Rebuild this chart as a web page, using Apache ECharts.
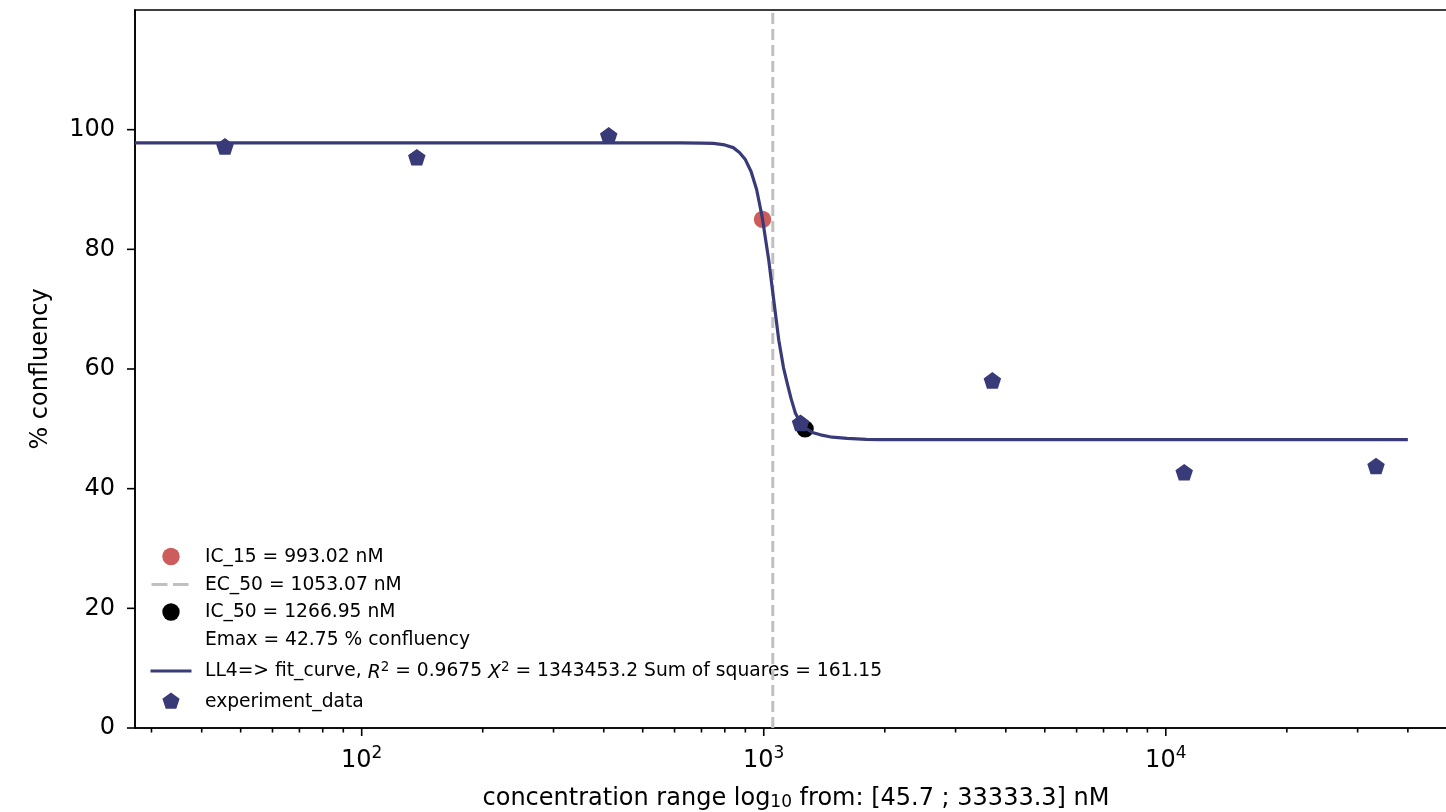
<!DOCTYPE html>
<html>
<head>
<meta charset="utf-8">
<script src="https://cdn.jsdelivr.net/npm/echarts@6/dist/echarts.min.js"></script>
<style>html,body{margin:0;padding:0;background:#fff;overflow:hidden;}#c{width:1446px;height:812px;}</style>
</head>
<body>
<div id="c"></div>
<script>
// ---- data ----
const xMin = 27.3, xMax = 53000;
const yMin = 0, yMax = 120;
const concentrations = [45.7, 137.1, 411.5, 1234.6, 3703.7, 11111.1, 33333.3];
const confluency = [97.2, 95.4, 99.05, 51.0, 58.1, 42.75, 43.8];
const curveX = [27.3, 100, 300, 500, 620, 700, 750, 800, 840, 870, 900, 930, 960, 991, 1029, 1059, 1090, 1120, 1144, 1170, 1199, 1230, 1269, 1320, 1384, 1480, 1612, 1800, 1950, 3000, 5000, 10000, 40000];
const curveY = [97.8, 97.8, 97.8, 97.8, 97.8, 97.75, 97.7, 97.45, 97.0, 96.2, 95.0, 93.0, 90.0, 85.4, 78.2, 71.5, 64.8, 60.2, 57.6, 55.0, 52.6, 51.2, 50.1, 49.4, 49.0, 48.6, 48.4, 48.25, 48.2, 48.2, 48.2, 48.2, 48.2];
const ic15 = [993.02, 85];
const ic50 = [1266.95, 50];
const ec50 = 1053.07;
const yTicks = [0, 20, 40, 60, 80, 100];
const xMajorTicks = [100, 1000, 10000];
const xMinorTicks = [30, 40, 50, 60, 70, 80, 90, 200, 300, 400, 500, 600, 700, 800, 900, 2000, 3000, 4000, 5000, 6000, 7000, 8000, 9000, 20000, 30000, 40000];
const legendLabels = [
  'IC_15 = 993.02 nM',
  'EC_50 = 1053.07 nM',
  'IC_50 = 1266.95 nM',
  'Emax = 42.75 % confluency',
  'LL4=> fit_curve, {i|R}{sup|2} = 0.9675 {i|X}{sup|2} = 1343453.2 Sum of squares = 161.15',
  'experiment_data'
];

const FONT = 'DejaVu Sans';
const NAVY = '#393b79';
const RED = '#cd5c5c';
const GREY = '#c0c0c0';
const PENT = 'path://M50,0 L97.55,34.55 L79.39,90.45 L20.61,90.45 L2.45,34.55 Z';

const chart = echarts.init(document.getElementById('c'), null, {renderer: 'canvas'});

function tickSeries(data, isX, len) {
  return {
    type: 'custom', silent: true, clip: false, z: 10,
    data: data,
    renderItem: function (params, api) {
      const p = api.coord([api.value(0), api.value(1)]);
      const shape = isX ? {x1: p[0], y1: p[1], x2: p[0], y2: p[1] + len}
                        : {x1: p[0], y1: p[1], x2: p[0] - len, y2: p[1]};
      return {type: 'line', shape: shape, style: {stroke: '#000', lineWidth: 1.6}};
    }
  };
}

// legend (drawn as graphics)
const lgX = 171, lgText = 205;
const rowY = [556.5, 584.5, 612, 640, 671, 701.5];
const legendGraphics = [
  {type: 'circle', shape: {cx: lgX, cy: rowY[0], r: 8.7}, style: {fill: RED}},
  {type: 'line', shape: {x1: 151.5, y1: rowY[1], x2: 167.5, y2: rowY[1]}, style: {stroke: GREY, lineWidth: 3}},
  {type: 'line', shape: {x1: 173, y1: rowY[1], x2: 188.5, y2: rowY[1]}, style: {stroke: GREY, lineWidth: 3}},
  {type: 'circle', shape: {cx: lgX, cy: rowY[2], r: 8.7}, style: {fill: '#000'}},
  {type: 'line', shape: {x1: 150.5, y1: rowY[4], x2: 191.5, y2: rowY[4]}, style: {stroke: NAVY, lineWidth: 3.2}},
  {type: 'polygon', shape: {points: [[171, rowY[5]-9], [179.6, rowY[5]-2.8], [176.3, rowY[5]+7.3], [165.7, rowY[5]+7.3], [162.4, rowY[5]-2.8]]}, style: {fill: NAVY}}
];
legendLabels.forEach(function (t, i) {
  legendGraphics.push({
    type: 'text',
    style: {
      text: t, x: lgText, y: rowY[i] + 0.5, verticalAlign: 'middle', align: 'left',
      fill: '#000', fontSize: 18.7, fontFamily: FONT,
      rich: {
        i: {fontStyle: 'italic', fontSize: 18.7, fontFamily: FONT, verticalAlign: 'bottom', lineHeight: 22},
        sup: {fontSize: 13.5, fontFamily: FONT, verticalAlign: 'top', lineHeight: 9}
      }
    }
  });
});

const option = {
  animation: false,
  backgroundColor: '#fff',
  grid: {left: 135, top: 10, width: 1322, bottom: 84, show: true, borderColor: '#000', borderWidth: 1.6, containLabel: false, outerBoundsMode: 'none'},
  xAxis: {
    type: 'log', logBase: 10, min: xMin, max: xMax,
    axisLine: {show: true, lineStyle: {color: '#000', width: 1.6}},
    axisTick: {show: false},
    minorTick: {show: false},
    splitLine: {show: false},
    axisLabel: {
      showMinLabel: false, showMaxLabel: false, margin: 17,
      color: '#000', fontFamily: FONT, fontSize: 24,
      formatter: function (v) {
        const e = Math.round(Math.log10(v));
        if (Math.abs(v - Math.pow(10, e)) / v > 1e-6) return '';
        return '{b|10}{s|' + e + '}';
      },
      rich: {
        b: {fontSize: 24, fontFamily: FONT, color: '#000', verticalAlign: 'bottom', lineHeight: 28},
        s: {fontSize: 17, fontFamily: FONT, color: '#000', verticalAlign: 'top', lineHeight: 15}
      }
    },
    name: 'concentration range log{sub|10} from: [45.7 ; 33333.3] nM',
    nameLocation: 'middle', nameGap: 59,
    nameTextStyle: {
      color: '#000', fontFamily: FONT, fontSize: 24,
      rich: {
        sub: {fontSize: 17, fontFamily: FONT, color: '#000', verticalAlign: 'bottom', lineHeight: 17, padding: [10, 0, 0, 0]}
      }
    }
  },
  yAxis: {
    type: 'value', min: yMin, max: yMax, interval: 20,
    axisLine: {show: true, lineStyle: {color: '#000', width: 1.6}},
    axisTick: {show: false},
    splitLine: {show: false},
    axisLabel: {showMaxLabel: false, margin: 20, padding: [8, 0, 0, 0], color: '#000', fontFamily: FONT, fontSize: 24},
    name: '% confluency', nameLocation: 'middle', nameGap: 82,
    nameTextStyle: {color: '#000', fontFamily: FONT, fontSize: 24}
  },
  graphic: legendGraphics,
  series: [
    {
      name: 'IC_15', type: 'scatter', z: 2, symbol: 'circle', symbolSize: 17.4,
      itemStyle: {color: RED, opacity: 1}, data: [ic15]
    },
    {
      name: 'EC_50', type: 'line', z: 3, showSymbol: false, symbol: 'none',
      lineStyle: {color: GREY, width: 3, type: [11, 5]},
      data: [[ec50, yMin], [ec50, yMax]]
    },
    {
      name: 'IC_50', type: 'scatter', z: 4, symbol: 'circle', symbolSize: 17.4,
      itemStyle: {color: '#000', opacity: 1}, data: [ic50]
    },
    {
      name: 'fit_curve', type: 'line', z: 5, showSymbol: false, symbol: 'none',
      smooth: false,
      lineStyle: {color: NAVY, width: 3.2, join: 'round'},
      data: curveX.map(function (x, i) { return [x, curveY[i]]; })
    },
    {
      name: 'experiment_data', type: 'scatter', z: 6, symbol: PENT, symbolSize: [17.5, 16.6],
      itemStyle: {color: NAVY, opacity: 1},
      data: concentrations.map(function (x, i) { return [x, confluency[i]]; })
    },
    tickSeries(xMajorTicks.map(function (v) { return [v, yMin]; }), true, 8),
    tickSeries(xMinorTicks.map(function (v) { return [v, yMin]; }), true, 4.5),
    tickSeries(yTicks.map(function (v) { return [xMin, v]; }), false, 8)
  ]
};
chart.setOption(option);
</script>
</body>
</html>
